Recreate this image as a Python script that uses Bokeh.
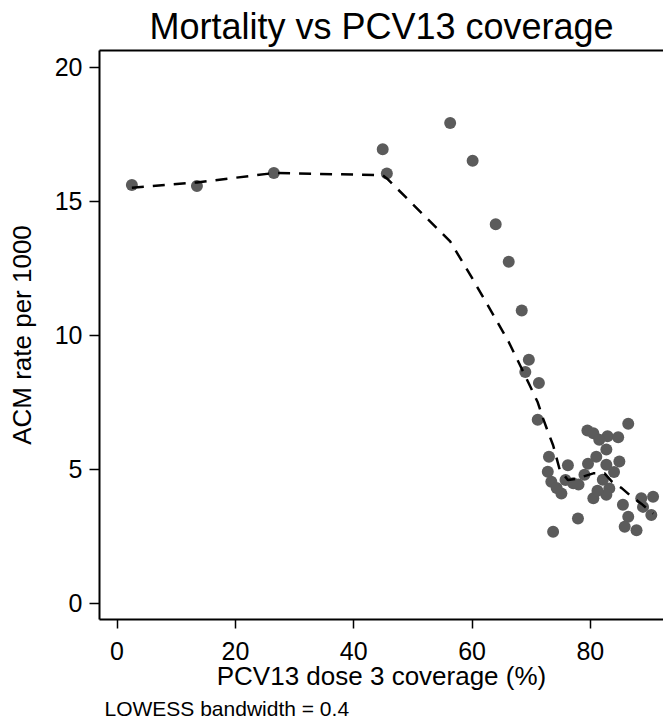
from bokeh.plotting import figure
from bokeh.models import LinearAxis, FixedTicker, Range1d, Title
from bokeh.embed import file_html
from bokeh.resources import INLINE

# Scatter data: PCV13 dose 3 coverage (%) vs ACM rate per 1000
coverage = [2.5, 13.5, 26.5, 44.9, 45.6, 56.3, 60.1, 64.0, 66.2, 68.4,
            69.6, 69.0, 71.3, 71.1, 86.4, 79.5, 80.5, 82.9, 84.7, 82.7,
            81.0, 73.0, 76.2, 79.6, 84.9, 82.7, 72.8, 73.4, 75.1, 77.1,
            78.0, 82.1, 83.2, 82.7, 80.5, 85.5, 88.6, 90.6, 88.9, 90.3,
            86.4, 85.8, 87.8, 77.9, 73.7, 79.0, 81.2, 84.0, 75.8, 74.3,
            81.5]
acm_rate = [15.6, 15.57, 16.05, 16.94, 16.03, 17.92, 16.51, 14.14, 12.74, 10.92,
            9.09, 8.63, 8.22, 6.85, 6.70, 6.45, 6.35, 6.23, 6.20, 5.74,
            5.47, 5.47, 5.15, 5.21, 5.29, 5.17, 4.91, 4.54, 4.10, 4.48,
            4.43, 4.61, 4.29, 4.05, 3.92, 3.68, 3.92, 3.98, 3.60, 3.30,
            3.23, 2.86, 2.73, 3.17, 2.67, 4.80, 4.20, 4.90, 4.60, 4.30,
            6.10]

# LOWESS smooth (bandwidth 0.4)
lowess_x = [2.5, 13.5, 26.5, 44.9, 45.6, 56.3, 60.1, 64.0, 66.2, 68.4,
            69.6, 71.1, 72.0, 73.0, 73.7, 74.8, 76.2, 77.6, 80.5, 82.4,
            83.6, 85.3, 86.6, 88.6, 90.6]
lowess_y = [15.5, 15.7, 16.05, 15.97, 15.85, 13.5, 12.1, 10.6, 9.75, 8.75,
            8.2, 7.5, 6.9, 6.3, 5.9, 5.0, 4.6, 4.65, 4.85, 4.85,
            4.55, 4.3, 4.05, 3.72, 3.35]

x_ticks = [0, 20, 40, 60, 80]
y_ticks = [0, 5, 10, 15, 20]

FONT = "Liberation Sans"

p = figure(width=663, height=725, output_backend="svg", toolbar_location=None,
           x_range=Range1d(-2.97, 92.36), y_range=Range1d(-0.6, 20.62),
           x_axis_location=None, y_axis_location=None,
           min_border_left=99, min_border_right=0, min_border_top=50,
           min_border_bottom=106)
p.outline_line_color = None
p.xgrid.visible = False
p.ygrid.visible = False
p.background_fill_color = "white"
p.border_fill_color = "white"

p.title.text = "Mortality vs PCV13 coverage"
p.title.align = "center"
p.title.text_font = FONT
p.title.text_font_size = "36px"
p.title.text_font_style = "normal"
p.title.text_color = "black"
p.title.standoff = 7

def style_axis(ax):
    ax.axis_line_width = 2
    ax.axis_line_color = "black"
    ax.major_tick_in = 0
    ax.minor_tick_in = 0
    ax.minor_tick_out = 0
    ax.major_tick_line_width = 1.5
    ax.major_tick_line_color = "black"
    ax.major_label_text_font = FONT
    ax.major_label_text_font_size = "25px"
    ax.major_label_text_color = "black"
    ax.axis_label_text_font = FONT
    ax.axis_label_text_font_size = "26px"
    ax.axis_label_text_font_style = "normal"
    ax.axis_label_text_color = "black"

xaxis = LinearAxis(ticker=FixedTicker(ticks=x_ticks), axis_label="PCV13 dose 3 coverage (%)")
style_axis(xaxis)
xaxis.major_tick_out = 9
xaxis.major_label_standoff = 13
xaxis.axis_label_standoff = -2
p.add_layout(xaxis, "below")

note = Title(text="LOWESS bandwidth = 0.4", align="left", text_font=FONT,
             text_font_size="21px", text_font_style="normal", text_color="black",
             offset=5, standoff=2)
p.add_layout(note, "below")

yaxis = LinearAxis(ticker=FixedTicker(ticks=y_ticks), axis_label="ACM rate per 1000")
style_axis(yaxis)
yaxis.major_tick_out = 10
yaxis.major_label_standoff = 7
yaxis.axis_label_standoff = 15
p.add_layout(yaxis, "left")

top = LinearAxis(ticker=FixedTicker(ticks=[]))
top.axis_line_width = 2
top.axis_line_color = "black"
top.major_tick_out = 0
top.major_tick_in = 0
top.minor_tick_out = 0
top.minor_tick_in = 0
top.major_label_text_font_size = "0px"
p.add_layout(top, "above")

p.scatter(coverage, acm_rate, size=12, fill_color="#5b5b5b", line_color=None)
p.line(lowess_x, lowess_y, line_color="black", line_width=2.5, line_dash="12 9")

open("out.html", "w").write(file_html(p, INLINE))
